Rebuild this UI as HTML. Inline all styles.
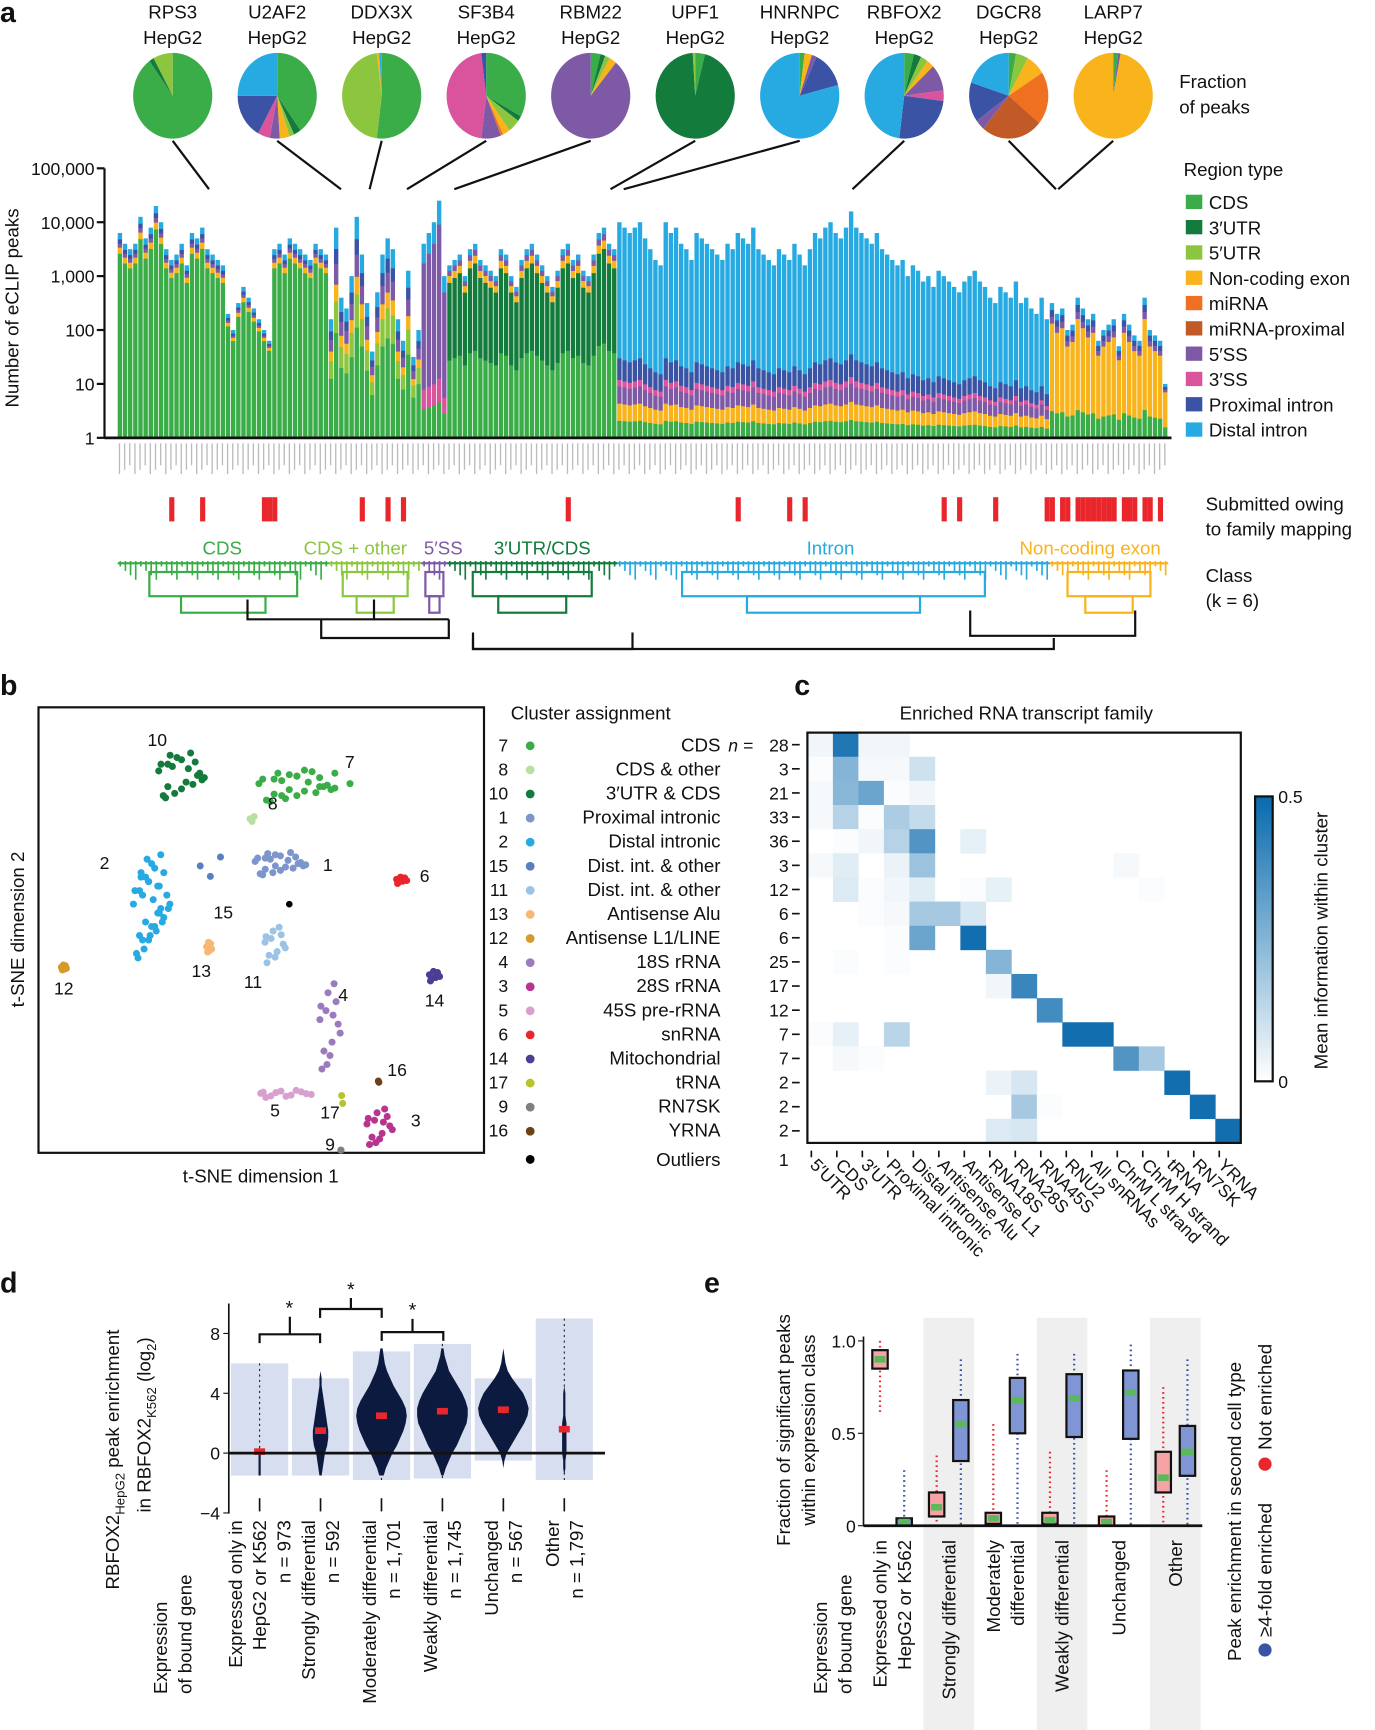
<!DOCTYPE html>
<html><head><meta charset="utf-8"><style>
html,body{margin:0;padding:0;background:#fff}
svg{display:block;font-family:"Liberation Sans",Arial,sans-serif}
</style></head><body>
<svg id="fig" width="1375" height="1730" viewBox="0 0 1250 1572.7" xmlns="http://www.w3.org/2000/svg"></svg>
<script>
// ===== Panel a data =====
const pieLabels=["RPS3","U2AF2","DDX3X","SF3B4","RBM22","UPF1","HNRNPC","RBFOX2","DGCR8","LARP7"];
const pieSlices=[
 [["#3aad48",.9],["#137b3b",.02],["#8cc63f",.08]],
 [["#3aad48",.4],["#137b3b",.03],["#8cc63f",.02],["#f9b31b",.04],["#7e5aa6",.04],["#d9539d",.05],["#3a53a4",.17],["#27aae1",.25]],
 [["#3aad48",.52],["#8cc63f",.46],["#f9b31b",.01],["#27aae1",.01]],
 [["#3aad48",.33],["#137b3b",.02],["#8cc63f",.05],["#f9b31b",.03],["#f07022",.01],["#7e5aa6",.08],["#d9539d",.46],["#3a53a4",.02]],
 [["#3aad48",.04],["#137b3b",.02],["#8cc63f",.02],["#f9b31b",.03],["#7e5aa6",.89]],
 [["#3aad48",.04],["#137b3b",.95],["#8cc63f",.01]],
 [["#3aad48",.02],["#f9b31b",.03],["#7e5aa6",.02],["#3a53a4",.14],["#27aae1",.79]],
 [["#3aad48",.04],["#137b3b",.03],["#8cc63f",.03],["#f9b31b",.03],["#7e5aa6",.1],["#d9539d",.04],["#3a53a4",.25],["#27aae1",.48]],
 [["#3aad48",.03],["#8cc63f",.05],["#f9b31b",.08],["#f07022",.2],["#c15a27",.25],["#7e5aa6",.04],["#3a53a4",.15],["#27aae1",.2]],
 [["#3aad48",.02],["#7e5aa6",.01],["#f9b31b",.97]]
];
const classNames=["CDS","CDS + other","5′SS","3′UTR/CDS","Intron","Non-coding exon"];
const classColors=["#3aad48","#8cc63f","#7e5aa6","#137b3b","#27aae1","#f9b31b"];
const barLog=[
 3.8,3.6,3.5,3.6,4.1,3.7,3.9,4.3,4.0,3.5,3.3,3.4,3.6,3.2,3.8,3.7,3.9,3.5,3.4,3.3,3.2,2.3,2.0,2.5,2.8,2.6,2.4,2.2,2.0,1.8,3.5,3.6,3.4,3.7,3.6,3.5,3.4,3.3,3.6,3.5,3.4,
 2.2,3.9,2.6,2.4,3.0,4.1,3.4,2.5,1.6,2.7,3.4,3.7,3.5,2.2,1.8,3.1,1.5,2.0,
 3.6,3.8,4.0,4.4,3.0,
 3.2,3.3,3.4,3.0,3.5,3.6,3.3,3.2,3.1,3.0,3.5,3.4,3.0,2.8,3.3,3.5,3.6,3.4,3.2,3.0,2.8,3.1,3.5,3.6,3.3,3.4,3.1,3.0,3.4,3.8,3.9,3.6,3.5,
 4.0,3.9,3.8,3.9,4.0,3.7,3.5,3.3,3.2,4.0,3.8,3.9,3.6,3.5,3.3,3.8,3.7,3.6,3.5,3.4,3.3,3.6,3.5,3.8,3.7,3.6,3.9,3.5,3.4,3.3,3.2,3.5,3.4,3.3,3.6,3.4,3.2,3.5,3.8,3.7,3.9,4.0,3.8,3.7,3.9,4.2,3.9,3.8,3.7,3.6,3.8,3.5,3.4,3.3,3.2,3.3,3.0,3.2,3.1,2.9,3.0,2.8,3.1,3.0,2.9,2.8,2.7,2.9,3.0,3.1,2.9,2.8,2.6,2.5,2.8,2.7,2.6,2.9,2.5,2.6,2.4,2.3,2.6,2.2,
 2.5,2.3,2.4,2.0,2.1,2.6,2.4,2.2,2.3,1.8,2.0,2.1,2.2,1.7,2.3,2.1,1.9,1.8,2.6,2.0,1.9,1.8,1.0
];
const classCounts=[41,18,5,33,84,23];
const classComp=[
 [["#3aad48",.9],["#f9b31b",.03],["#7e5aa6",.02],["#3a53a4",.02],["#27aae1",.03]],
 [["#3aad48",.5],["#8cc63f",.15],["#f9b31b",.08],["#7e5aa6",.1],["#3a53a4",.07],["#27aae1",.1]],
 [["#3aad48",.15],["#d9539d",.1],["#7e5aa6",.65],["#27aae1",.1]],
 [["#3aad48",.45],["#137b3b",.45],["#f9b31b",.04],["#7e5aa6",.03],["#27aae1",.03]],
 [["#3aad48",.08],["#f9b31b",.08],["#7e5aa6",.08],["#d9539d",.03],["#3a53a4",.1],["#27aae1",.63]],
 [["#3aad48",.2],["#f9b31b",.65],["#7e5aa6",.05],["#3a53a4",.05],["#27aae1",.05]]
];
const yTicksA=[0,1,2,3,4,5];
const yTickLabelsA=["1","10","100","1,000","10,000","100,000"];
const submittedIdx=[10,16,28,29,30,47,52,55,87,120,130,133,160,163,170,180,181,183,184,186,187,188,189,190,191,192,193,195,196,197,199,200,202];
const legendA=[["CDS","#3aad48"],["3′UTR","#137b3b"],["5′UTR","#8cc63f"],["Non-coding exon","#f9b31b"],["miRNA","#f07022"],["miRNA-proximal","#c15a27"],["5′SS","#7e5aa6"],["3′SS","#d9539d"],["Proximal intron","#3a53a4"],["Distal intron","#27aae1"]];

// ===== Panel b data =====
const clusterIds=["7","8","10","1","2","15","11","13","12","4","3","5","6","14","17","9","16"];
const clusterNames=["CDS","CDS & other","3′UTR & CDS","Proximal intronic","Distal intronic","Dist. int. & other","Dist. int. & other","Antisense Alu","Antisense L1/LINE","18S rRNA","28S rRNA","45S pre-rRNA","snRNA","Mitochondrial","tRNA","RN7SK","YRNA"];
const clusterN=[28,3,21,33,36,3,12,6,6,25,17,12,7,7,2,2,2];
const clusterColors=["#3aad48","#b9dfa5","#137b3b","#7c95cc","#27aae1","#5a7ec0","#9cc3e6","#f9b774","#d49a2a","#9b7bbd","#b8348f","#d9a0cf","#e8262b","#4b3f94","#b5c42f","#808080","#6b4116"];
const clusterCX=[14.3,-2.2,-31.3,7.8,-44.3,-13.9,5.7,-20.4,-77.8,27.4,47,10,55.7,68.7,33,31.7,47];
const clusterCY=[38.2,29.4,41.2,17.6,4.4,16.2,-4.4,-5,-10.3,-26.5,-53,-44,13.2,-12.4,-45,-59,-40.6];
const clusterSX=[15,2,9,10,6,10,4,1,1,4,5,10,2,2,1,0,0.5];
const clusterSY=[4,1,6,3,12,4,5,2,1,12,5,1,1,1.5,3,0,0.5];
const jitterU=[-1,-.6,-.2,.2,.6,1,-.8,-.4,0,.4,.8,-.9,-.3,.3,.9,-.5,.5,0,-.7,.7];
const jitterV=[.2,-.5,.8,-.3,.6,-.1,-.9,.4,-.6,1,.1,.5,-.8,.3,-.2,.9,-.4,.7,-1,0];
const clusterPts=[28,3,21,22,36,3,12,6,6,14,14,12,7,7,2,2,2];

// ===== Panel c data =====
const hmCols=["5′UTR","CDS","3′UTR","Proximal intronic","Distal intronic","Antisense Alu","Antisense L1","RNA18S","RNA28S","RNA45S","RNU2","All snRNAs","ChrM L strand","ChrM H strand","tRNA","RN7SK","YRNA"];
const hmRows=[
 [.03,.45,.03,.03,0,0,0,0,0,0,0,0,0,0,0,0,0],
 [.01,.25,.02,.02,.1,0,0,0,0,0,0,0,0,0,0,0,0],
 [.02,.24,.3,.01,.03,0,0,0,0,0,0,0,0,0,0,0,0],
 [.02,.15,.01,.17,.12,0,0,0,0,0,0,0,0,0,0,0,0],
 [0,.01,.03,.15,.35,0,.05,0,0,0,0,0,0,0,0,0,0],
 [.02,.06,0,.04,.2,0,0,0,0,0,0,0,.02,0,0,0,0],
 [0,.07,.01,.03,.06,0,.01,.05,0,0,0,0,0,.01,0,0,0],
 [0,0,.01,.02,.18,.18,.08,0,0,0,0,0,0,0,0,0,0],
 [0,0,0,.01,.3,0,.48,0,0,0,0,0,0,0,0,0,0],
 [0,.01,0,.01,0,0,0,.25,0,0,0,0,0,0,0,0,0],
 [0,0,0,0,0,0,0,.03,.4,0,0,0,0,0,0,0,0],
 [0,0,0,0,0,0,0,0,0,.38,0,0,0,0,0,0,0],
 [.01,.05,0,.14,0,0,0,0,0,0,.48,.48,0,0,0,0,0],
 [0,.02,.01,0,0,0,0,0,0,0,0,0,.35,.18,0,0,0],
 [0,0,0,0,0,0,0,.04,.08,0,0,0,0,0,.48,0,0],
 [0,0,0,0,0,0,0,0,.18,.01,0,0,0,0,0,.48,0],
 [0,0,0,0,0,0,0,.07,.08,0,0,0,0,0,0,0,.48]
];

// ===== Panel d data =====
const dCats=["Expressed only in|HepG2 or K562","Strongly differential","Moderately differential","Weakly differential","Unchanged","Other"];
const dN=["973","592","1,701","1,745","567","1,797"];
const dMedian=[0.1,1.5,2.5,2.8,2.9,1.6];
const dLevels=[-1.5,-1,-0.5,0,0.5,1,1.5,2,2.5,3,3.5,4,4.5,5,5.5,6,6.5,7];
const dWidths=[
 [1,1,1,1,0,0,0,0,0,0,0,0,0,0,0,0,0,0],
 [1,2,3,4,6,7,7,6,5,4,3,2,1,1,0,0,0,0],
 [2,4,7,10,14,17,20,22,23,22,19,15,11,8,5,3,2,1],
 [1,3,6,9,13,16,19,22,23,23,21,18,14,10,6,4,2,1],
 [0,0,1,3,7,11,15,19,22,23,21,18,13,8,4,2,1,0],
 [0,1,1,2,2,2,2,2,1,1,1,1,0,0,0,0,0,0]
];
const dSpread=[[-1.5,6],[-1.5,5],[-1.8,6.8],[-1.7,7.3],[-0.5,5],[-1.8,9]];

// ===== Panel e data =====
const eCats=["Expressed only in|HepG2 or K562","Strongly differential","Moderately|differential","Weakly differential","Unchanged","Other"];
const eRed=[[.85,.9,.95],[.05,.1,.18],[.01,.04,.07],[.01,.03,.07],[0,.02,.05],[.18,.26,.4]];
const eBlue=[[0,.02,.04],[.35,.55,.68],[.5,.68,.8],[.48,.69,.82],[.47,.72,.84],[.27,.4,.54]];
const eRedRange=[[.6,1],[0,.38],[0,.55],[0,.4],[0,.3],[0,.75]];
const eBlueRange=[[0,.3],[0,.9],[0,.93],[0,.93],[0,.98],[0,.9]];

// ===== rendering =====
const NS="http://www.w3.org/2000/svg";
const svg=document.getElementById('fig');
function el(tag,attrs,parent,text){const e=document.createElementNS(NS,tag);for(const k in attrs)e.setAttribute(k,attrs[k]);if(text!==undefined)e.textContent=text;(parent||svg).appendChild(e);return e;}
function grp(name){const g=el('g',{});return g;}
function txt(parent,x,y,s,size,opts){opts=opts||{};const t=el('text',Object.assign({x:x,y:y,'font-size':size,fill:opts.fill||'#111','text-anchor':opts.anchor||'start'},opts.tr?{transform:opts.tr}:{}),parent,s);if(opts.style)t.setAttribute('style',opts.style);return t;}

[["a",0,20],["b",0,632],["c",722,632],["d",0,1175],["e",640,1175]].forEach(p=>{const t=txt(svg,p[1],p[2],p[0],26,{style:'font-weight:bold'});});

// ---- Panel a ----
const gA=grp('panel-a');
const pieCX=i=>157+i*95;
pieLabels.forEach((lab,i)=>{
 const gp=el('g',{},gA);
 txt(gp,pieCX(i),17,lab,17,{anchor:'middle'});txt(gp,pieCX(i),40,'HepG2',17,{anchor:'middle'});
 let a=0;const cx=pieCX(i),cy=87,rx=36,ry=39;
 pieSlices[i].forEach(s=>{const a0=a,a1=a+s[1]*2*Math.PI;a=a1;
  const x0=cx+rx*Math.sin(a0),y0=cy-ry*Math.cos(a0),x1=cx+rx*Math.sin(a1),y1=cy-ry*Math.cos(a1);
  const p=el('path',{d:`M${cx},${cy}L${x0},${y0}A${rx},${ry} 0 ${s[1]>.5?1:0} 1 ${x1},${y1}Z`,fill:s[0]},gp);});
});
txt(gA,1072,80,'Fraction',17);txt(gA,1072,103,'of peaks',17);
[[157,128,190,172],[252,128,310,172],[347,128,336,172],[442,128,370,172],[537,128,413,172],[632,128,555,172],[727,128,567,172],[822,128,775,172],[917,128,960,172],[1012,128,962,172]].forEach(l=>el('line',{x1:l[0],y1:l[1],x2:l[2],y2:l[3],stroke:'#111','stroke-width':2},gA));
const yA=v=>398-v*49;
const barX0=107,barW=(1062-107)/barLog.length;
const bars=grp('bars');gA.appendChild(bars);
let bi=0;
classCounts.forEach((cnt,c)=>{for(let k=0;k<cnt;k++,bi++){
 const v=barLog[bi];let base=0;const x=barX0+bi*barW;
 classComp[c].forEach(s=>{const h=v*s[1];const r=el('rect',{x:x,y:yA(base+h),width:barW*0.85,height:h*49+0.3,fill:s[0]},bars);base+=h;});
}});
el('line',{x1:95,y1:153,x2:95,y2:398,stroke:'#111','stroke-width':2},gA);
el('line',{x1:95,y1:398,x2:1065,y2:398,stroke:'#111','stroke-width':2.5},gA);
yTicksA.forEach((t,i)=>{el('line',{x1:88,y1:yA(t),x2:95,y2:yA(t),stroke:'#111','stroke-width':2},gA);txt(gA,86,yA(t)+6,yTickLabelsA[i],16,{anchor:'end'});});
const yt=txt(gA,17,280,'Number of eCLIP peaks',17,{anchor:'middle',tr:'rotate(-90 17 280)'});
for(let i=0;i<barLog.length;i++){el('rect',{x:barX0+i*barW+1,y:403,width:1.2,height:28-(i%3)*4,fill:'#bbb'},gA);}
txt(gA,1076,160,'Region type',17);
legendA.forEach((l,i)=>{const g=el('g',{},gA);el('rect',{x:1078,y:177+i*23,width:15,height:13,fill:l[1]},g);txt(g,1099,190+i*23,l[0],17);});
submittedIdx.forEach(i=>el('rect',{x:barX0+i*barW,y:452,width:barW,height:22,fill:'#e8262b'},gA));
txt(gA,1096,464,'Submitted owing',17);txt(gA,1096,487,'to family mapping',17);
[[202,"CDS"],[323,"CDS + other"],[403,"5′SS"],[493,"3′UTR/CDS"],[755,"Intron"],[991,"Non-coding exon"]].forEach((c,i)=>txt(gA,c[0],504,c[1],17,{anchor:'middle',fill:classColors[i]}));
txt(gA,1096,529,'Class',17);txt(gA,1096,552,'(k = 6)',17);
const dg=grp('dendrogram');gA.appendChild(dg);
let start=0;
classCounts.forEach((cnt,c)=>{const x0=barX0+start*barW,x1=barX0+(start+cnt)*barW;const col=classColors[c];
 for(let k=0;k<cnt;k++){const x=barX0+(start+k)*barW+barW/2;el('line',{x1:x,y1:510,x2:x,y2:515+(k%4)*4,stroke:col,'stroke-width':1.5},dg);}
 el('line',{x1:x0,y1:512,x2:x1,y2:512,stroke:col,'stroke-width':2},dg);
 el('rect',{x:x0+(x1-x0)*0.15,y:520,width:(x1-x0)*0.7,height:22,fill:'none',stroke:col,'stroke-width':2},dg);
 el('rect',{x:x0+(x1-x0)*0.3,y:542,width:(x1-x0)*0.4,height:15,fill:'none',stroke:col,'stroke-width':2},dg);
 start+=cnt;});
[[225,545,340,563],[292,563,408,580],[340,563,408,563],[430,575,575,590],[882,555,1032,578]].forEach(r=>el('path',{d:`M${r[0]},${r[1]}V${r[3]}H${r[2]}V${r[1]}`,fill:'none',stroke:'#111','stroke-width':2},dg));
el('path',{d:'M430,580V590H958V580',fill:'none',stroke:'#111','stroke-width':2},dg);

// ---- Panel b ----
const gB=grp('panel-b');
el('rect',{x:35,y:643,width:405,height:405,fill:'none',stroke:'#111','stroke-width':2},gB);
const bx=v=>237+v*2.3,by=v=>845-v*3.4;
clusterIds.forEach((id,c)=>{for(let k=0;k<clusterPts[c];k++){
 const j=k%jitterU.length;const p=el('circle',{cx:bx(clusterCX[c]+jitterU[j]*clusterSX[c]+(k>=20?0.4*clusterSX[c]:0)),cy:by(clusterCY[c]+jitterV[j]*clusterSY[c]+(k>=20?0.3*clusterSY[c]:0)),r:3.2,fill:clusterColors[c]},gB);}});
el('circle',{cx:263,cy:822,r:3,fill:'#000'},gB);
[["10",143,678],["7",318,698],["8",248,736],["2",95,790],["1",298,792],["6",386,802],["15",203,835],["13",183,888],["11",230,898],["12",58,904],["14",395,915],["4",312,910],["16",361,978],["5",250,1015],["17",300,1017],["3",378,1024],["9",300,1046]].forEach(l=>txt(gB,l[1],l[2],l[0],16,{anchor:'middle'}));
txt(gB,237,1075,'t-SNE dimension 1',17,{anchor:'middle'});
txt(gB,22,845,'t-SNE dimension 2',17,{anchor:'middle',tr:'rotate(-90 22 845)'});
txt(gB,537,654,'Cluster assignment',17,{anchor:'middle'});
clusterIds.forEach((id,i)=>{const y=683+i*21.9;const g=el('g',{},gB);
 txt(g,462,y,id,16,{anchor:'end'});el('circle',{cx:482,cy:y-5,r:4,fill:clusterColors[i]},g);
 txt(g,655,y,clusterNames[i],17,{anchor:'end'});txt(g,717,y,''+clusterN[i],16,{anchor:'end'});});
txt(gB,662,683,'n =',16,{style:'font-style:italic'});
el('circle',{cx:482,cy:1054,r:4,fill:'#000'},gB);txt(gB,655,1060,'Outliers',17,{anchor:'end'});txt(gB,717,1060,'1',16,{anchor:'end'});

// ---- Panel c ----
const gC=grp('panel-c');
txt(gC,933,654,'Enriched RNA transcript family',17,{anchor:'middle'});
const hx0=734,hy0=666,cw=(1128-734)/17,ch=(1039-666)/17;
function blue(v){const t=Math.min(v/0.5,1);const r=Math.round(255+(8-255)*t),g=Math.round(255+(104-255)*t),b=Math.round(255+(172-255)*t);return `rgb(${r},${g},${b})`;}
hmRows.forEach((row,r)=>{row.forEach((v,c)=>{if(v>0){const e=el('rect',{x:hx0+c*cw,y:hy0+r*ch,width:cw+.3,height:ch+.3,fill:blue(v)},gC);}});
 el('line',{x1:720,y1:hy0+(r+.5)*ch,x2:727,y2:hy0+(r+.5)*ch,stroke:'#111','stroke-width':1.5},gC);});
el('rect',{x:hx0,y:hy0,width:1128-734,height:1039-666,fill:'none',stroke:'#111','stroke-width':2},gC);
hmCols.forEach((c,i)=>{const x=hx0+(i+.5)*cw-8;el('line',{x1:x,y1:1046,x2:x,y2:1052,stroke:'#111','stroke-width':1.5},gC);
 txt(gC,x-2,1060,c,16,{tr:`rotate(45 ${x-2} 1060)`});});
const grad=el('linearGradient',{id:'cb',x1:0,y1:1,x2:0,y2:0},el('defs',{},gC));
el('stop',{offset:0,'stop-color':'#fff'},grad);el('stop',{offset:1,'stop-color':'#086aae'},grad);
el('rect',{x:1141,y:724,width:16,height:259,fill:'url(#cb)',stroke:'#111','stroke-width':2},gC);
txt(gC,1162,730,'0.5',16);txt(gC,1162,989,'0',16);
txt(gC,1207,855,'Mean information within cluster',17,{anchor:'middle',tr:'rotate(-90 1207 855)'});

// ---- Panel d ----
const gD=grp('panel-d');
const dy=v=>1321-v*13.6,dxc=i=>236+i*55.4;
dCats.forEach((c,i)=>{
 el('rect',{x:dxc(i)-26,y:dy(dSpread[i][1]),width:52,height:dy(dSpread[i][0])-dy(dSpread[i][1]),fill:'#b7c2e3',opacity:0.55},gD);
 el('line',{x1:dxc(i),y1:dy(dSpread[i][1]),x2:dxc(i),y2:dy(dSpread[i][0]),stroke:'#222','stroke-width':1,'stroke-dasharray':'2 3'},gD);
 let pts=[];dLevels.forEach((lv,k)=>pts.push([dxc(i)+dWidths[i][k],dy(lv)]));for(let k=dLevels.length-1;k>=0;k--)pts.push([dxc(i)-dWidths[i][k],dy(dLevels[k])]);
 const v=el('polygon',{points:pts.map(p=>p.join(',')).join(' '),fill:'#0d1a40'},gD);
 el('rect',{x:dxc(i)-5,y:dy(dMedian[i])-3,width:10,height:6,fill:'#e8262b'},gD);
});
el('line',{x1:208,y1:1321,x2:550,y2:1321,stroke:'#111','stroke-width':2.5},gD);
el('line',{x1:208,y1:1185,x2:208,y2:1376,stroke:'#111','stroke-width':1.5},gD);
[8,4,0,-4].forEach(t=>{el('line',{x1:203,y1:dy(t),x2:208,y2:dy(t),stroke:'#111'},gD);txt(gD,200,dy(t)+6,String(t).replace('-','−'),16,{anchor:'end'});});
[[236,291,1213,1197,263],[291,347,1190,1180,319],[347,403,1211,1199,375]].forEach(b=>{el('path',{d:`M${b[0]},${b[2]+8}V${b[2]}H${b[1]}V${b[2]+8}M${(b[0]+b[1])/2},${b[2]}V${b[3]}`,fill:'none',stroke:'#111','stroke-width':2},gD);txt(gD,b[4],b[3]-2,'*',18,{anchor:'middle'});});
const t1=txt(gD,108,1445,'',17,{tr:'rotate(-90 108 1445)'});t1.innerHTML='<tspan>RBFOX2</tspan><tspan font-size="12" dy="5">HepG2</tspan><tspan dy="-5"> peak enrichment</tspan>';
const t2=txt(gD,137,1375,'',17,{tr:'rotate(-90 137 1375)'});t2.innerHTML='<tspan>in RBFOX2</tspan><tspan font-size="12" dy="5">K562</tspan><tspan dy="-5"> (log</tspan><tspan font-size="12" dy="5">2</tspan><tspan dy="-5">)</tspan>';
dCats.forEach((c,i)=>{const parts=c.split('|');const x=dxc(i);el('line',{x1:x,y1:1362,x2:x,y2:1374,stroke:'#111','stroke-width':1.5},gD);
 const lines=parts.concat(['n = '+dN[i]]);const L=lines.length;
 lines.forEach((s,k)=>{const cx=x-11*(L-1)+22*k+6;txt(gD,cx,1382,s,17,{anchor:'end',tr:`rotate(-90 ${cx} 1382)`});});});
txt(gD,152,1540,'Expression',17,{tr:'rotate(-90 152 1540)'});txt(gD,174,1540,'of bound gene',17,{tr:'rotate(-90 174 1540)'});

// ---- Panel e ----
const gE=grp('panel-e');
const ey=v=>1387-v*168;
const eRx=i=>800+i*51.5,eBx=i=>822+i*51.5;
[1,3,5].forEach(i=>el('rect',{x:eRx(i)-12,y:1198,width:46,height:375,fill:'#efefef'},gE));
eCats.forEach((c,i)=>{
 [[eRx(i),eRed[i],eRedRange[i],'#e8262b','#f5a3a5'],[eBx(i),eBlue[i],eBlueRange[i],'#3a53a4','#7f95d4']].forEach(s=>{
  el('line',{x1:s[0],y1:ey(s[2][1]),x2:s[0],y2:ey(s[2][0]),stroke:s[3],'stroke-width':2,'stroke-dasharray':'1.5 3'},gE);
  const b=el('rect',{x:s[0]-7,y:ey(s[1][2]),width:14,height:ey(s[1][0])-ey(s[1][2]),fill:s[4],stroke:'#111','stroke-width':2},gE);
  el('rect',{x:s[0]-5,y:ey(s[1][1])-3,width:10,height:6,fill:'#5cb85c'},gE);});
});
el('line',{x1:785,y1:1387,x2:1093,y2:1387,stroke:'#111','stroke-width':2.5},gE);
el('line',{x1:785,y1:1215,x2:785,y2:1387,stroke:'#111','stroke-width':1.5},gE);
[[1,'1.0'],[.5,'0.5'],[0,'0']].forEach(t=>{el('line',{x1:780,y1:ey(t[0]),x2:785,y2:ey(t[0]),stroke:'#111'},gE);txt(gE,778,ey(t[0])+6,t[1],16,{anchor:'end'});});
txt(gE,718,1300,'Fraction of significant peaks',17,{anchor:'middle',tr:'rotate(-90 718 1300)'});
txt(gE,741,1300,'within expression class',17,{anchor:'middle',tr:'rotate(-90 741 1300)'});
txt(gE,752,1540,'Expression',17,{tr:'rotate(-90 752 1540)'});txt(gE,774,1540,'of bound gene',17,{tr:'rotate(-90 774 1540)'});
eCats.forEach((c,i)=>{const parts=c.split('|');const L=parts.length;const ctr=(eRx(i)+eBx(i))/2;parts.forEach((s,k)=>{const x=ctr-11*(L-1)+22*k+6;txt(gE,x,1400,s,17,{anchor:'end',tr:`rotate(-90 ${x} 1400)`});});});
txt(gE,1128,1510,'Peak enrichment in second cell type',17,{anchor:'start',tr:'rotate(-90 1128 1510)'});
el('circle',{cx:1150,cy:1500,r:6,fill:'#3a53a4'},gE);txt(gE,1156,1488,'≥4-fold enriched',17,{tr:'rotate(-90 1156 1488)'});
el('circle',{cx:1150,cy:1331,r:6,fill:'#e8262b'},gE);txt(gE,1156,1318,'Not enriched',17,{tr:'rotate(-90 1156 1318)'});
</script>
</body></html>
